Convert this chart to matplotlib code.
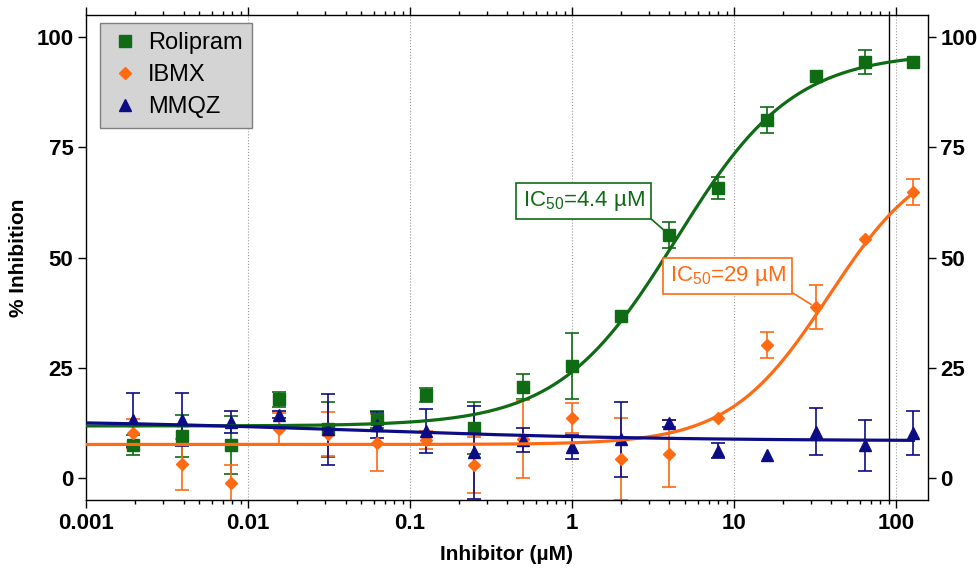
import numpy as np
import matplotlib
matplotlib.use('Agg')
import matplotlib.pyplot as plt
from matplotlib.lines import Line2D
from matplotlib.ticker import FuncFormatter
from matplotlib import font_manager

names = [f.name for f in font_manager.fontManager.ttflist]
base_font = 'Liberation Sans' if 'Liberation Sans' in names else 'DejaVu Sans'
tick_font = 'Liberation Sans Narrow' if 'Liberation Sans Narrow' in names else base_font
plt.rcParams['font.family'] = [base_font, 'DejaVu Sans']
plt.rcParams['mathtext.fontset'] = 'custom'
plt.rcParams['mathtext.rm'] = base_font
plt.rcParams['mathtext.it'] = base_font

# concentrations (uM)
conc = [0.001953125, 0.00390625, 0.0078125, 0.015625, 0.03125, 0.0625, 0.125,
        0.25, 0.5, 1, 2, 4, 8, 16, 32, 64, 128]

roli = [7.5, 9.5, 7.5, 17.8, 11.0, 13.3, 18.8, 11.4, 20.7, 25.4, 36.7, 55.1,
        65.7, 81.2, 91.2, 94.3, 94.3]
roli_err = [2.3, 4.8, 6.5, 1.6, 6.2, 2.0, 1.5, 5.9, 2.8, 7.4, np.nan, 2.9,
            2.5, 2.9, np.nan, 2.7, np.nan]

ibmx = [10.1, 3.1, -1.2, 11.2, 9.9, 8.0, 8.6, 3.0, 8.8, 13.7, 4.2, 5.5,
        13.5, 30.2, 38.7, 54.1, 64.9]
ibmx_err = [3.3, 5.8, 4.2, 3.5, 5.0, 6.4, 2.0, 6.3, 8.9, 3.4, 9.3, 7.6,
            np.nan, 3.0, 5.0, np.nan, 3.0]

mmqz = [13.2, 13.2, 12.6, 14.3, 11.0, 12.0, 10.7, 5.8, 8.7, 7.0, 8.8, 12.4,
        6.2, 5.2, 10.5, 7.4, 10.2]
mmqz_err = [6.1, 6.0, 2.5, 0.8, 8.0, 3.0, 5.0, 10.5, 2.7, 2.8, 8.5, 0.8,
            1.7, np.nan, 5.4, 5.8, 5.0]

# fitted curve parameters (bottom, top, midpoint, hill)
roli_fit = (11.8, 96.5, 4.4, 1.2)
ibmx_fit = (7.6, 75.0, 38.5, 1.42)
mmqz_fit = (13.2, 8.4, 0.05, 0.45)

green = '#0f6b14'
orange = '#ff6a13'
navy = '#0c0c85'


def logistic(x, p):
    b, t, c, h = p
    return b + (t - b) / (1 + (c / x) ** h)


fig = plt.figure(figsize=(9.77, 5.71), dpi=100)
ax = fig.add_axes([0.088, 0.1243, 0.8618, 0.8494])
ax.set_xscale('log')
ax.set_xlim(0.001, 157.6)
ax.set_ylim(-5, 105)

for xv in [0.01, 0.1, 1, 10, 100]:
    ax.axvline(xv, color='#9a9a9a', lw=0.8, ls=':', zorder=0)
ax.axvline(90, color='black', lw=1.0, zorder=1)

xs = np.logspace(-3, np.log10(128), 400)
ax.plot(xs, logistic(xs, roli_fit), color=green, lw=2.3, zorder=3)
ax.plot(xs, logistic(xs, ibmx_fit), color=orange, lw=2.3, zorder=3)
ax.plot(xs, logistic(xs, mmqz_fit), color=navy, lw=2.3, zorder=4)

ax.errorbar(conc, roli, yerr=roli_err, fmt='s', color=green, ms=8.5,
            capsize=5, elinewidth=1.2, capthick=1.2, zorder=2)
ax.errorbar(conc, ibmx, yerr=ibmx_err, fmt='D', color=orange, ms=6.5,
            capsize=5, elinewidth=1.2, capthick=1.2, zorder=2)
ax.errorbar(conc, mmqz, yerr=mmqz_err, fmt='^', color=navy, ms=8.5,
            capsize=5, elinewidth=1.2, capthick=1.2, zorder=2)

ax.annotate('IC$_{50}$=4.4 µM', xy=(4, 55.1), xytext=(0.591, 0.616),
            textcoords='axes fraction', ha='center', va='center',
            fontsize=16, color=green,
            bbox=dict(boxstyle='square,pad=0.28', fc='white', ec=green, lw=1.2),
            arrowprops=dict(arrowstyle='-', color=green, lw=1.2,
                            relpos=(1, 0), shrinkA=0, shrinkB=4), zorder=6)
ax.annotate('IC$_{50}$=29 µM', xy=(32, 38.7), xytext=(0.762, 0.462),
            textcoords='axes fraction', ha='center', va='center',
            fontsize=16, color=orange,
            bbox=dict(boxstyle='square,pad=0.28', fc='white', ec=orange, lw=1.2),
            arrowprops=dict(arrowstyle='-', color=orange, lw=1.2,
                            relpos=(0.96, 0.1), shrinkA=0, shrinkB=4), zorder=6)

handles = [Line2D([0], [0], ls='none', marker='s', color=green, ms=8.5, label='Rolipram'),
           Line2D([0], [0], ls='none', marker='D', color=orange, ms=6.5, label='IBMX'),
           Line2D([0], [0], ls='none', marker='^', color=navy, ms=8.5, label='MMQZ')]
leg = ax.legend(handles=handles, loc='upper left', bbox_to_anchor=(0.0166, 0.9835),
                borderaxespad=0, fontsize=17, fancybox=False, framealpha=1,
                facecolor='#d4d4d4', edgecolor='#7f7f7f', handletextpad=0.35,
                labelspacing=0.42, borderpad=0.4, handlelength=1.3)
leg.get_frame().set_linewidth(1.0)
leg.set_zorder(10)

ax.set_yticks([0, 25, 50, 75, 100])
ax.xaxis.set_major_formatter(FuncFormatter(lambda v, p: '{:g}'.format(v)))
ax.tick_params(which='both', direction='out', top=True, right=True,
               labelright=True, width=1.0)
ax.tick_params(which='major', length=6, pad=3)
ax.tick_params(which='minor', length=3)
for t in ax.xaxis.get_major_ticks() + ax.yaxis.get_major_ticks():
    for lab in (t.label1, t.label2):
        lab.set_fontfamily(tick_font)
        lab.set_fontweight('bold')
        lab.set_fontsize(16)
for sp in ax.spines.values():
    sp.set_linewidth(1.0)

ax.set_xlabel('Inhibitor (µM)', fontsize=15, fontweight='bold', labelpad=8)
ax.set_ylabel('% Inhibition', fontsize=15, fontweight='bold', labelpad=6)

fig.savefig('out.png', dpi=100)
